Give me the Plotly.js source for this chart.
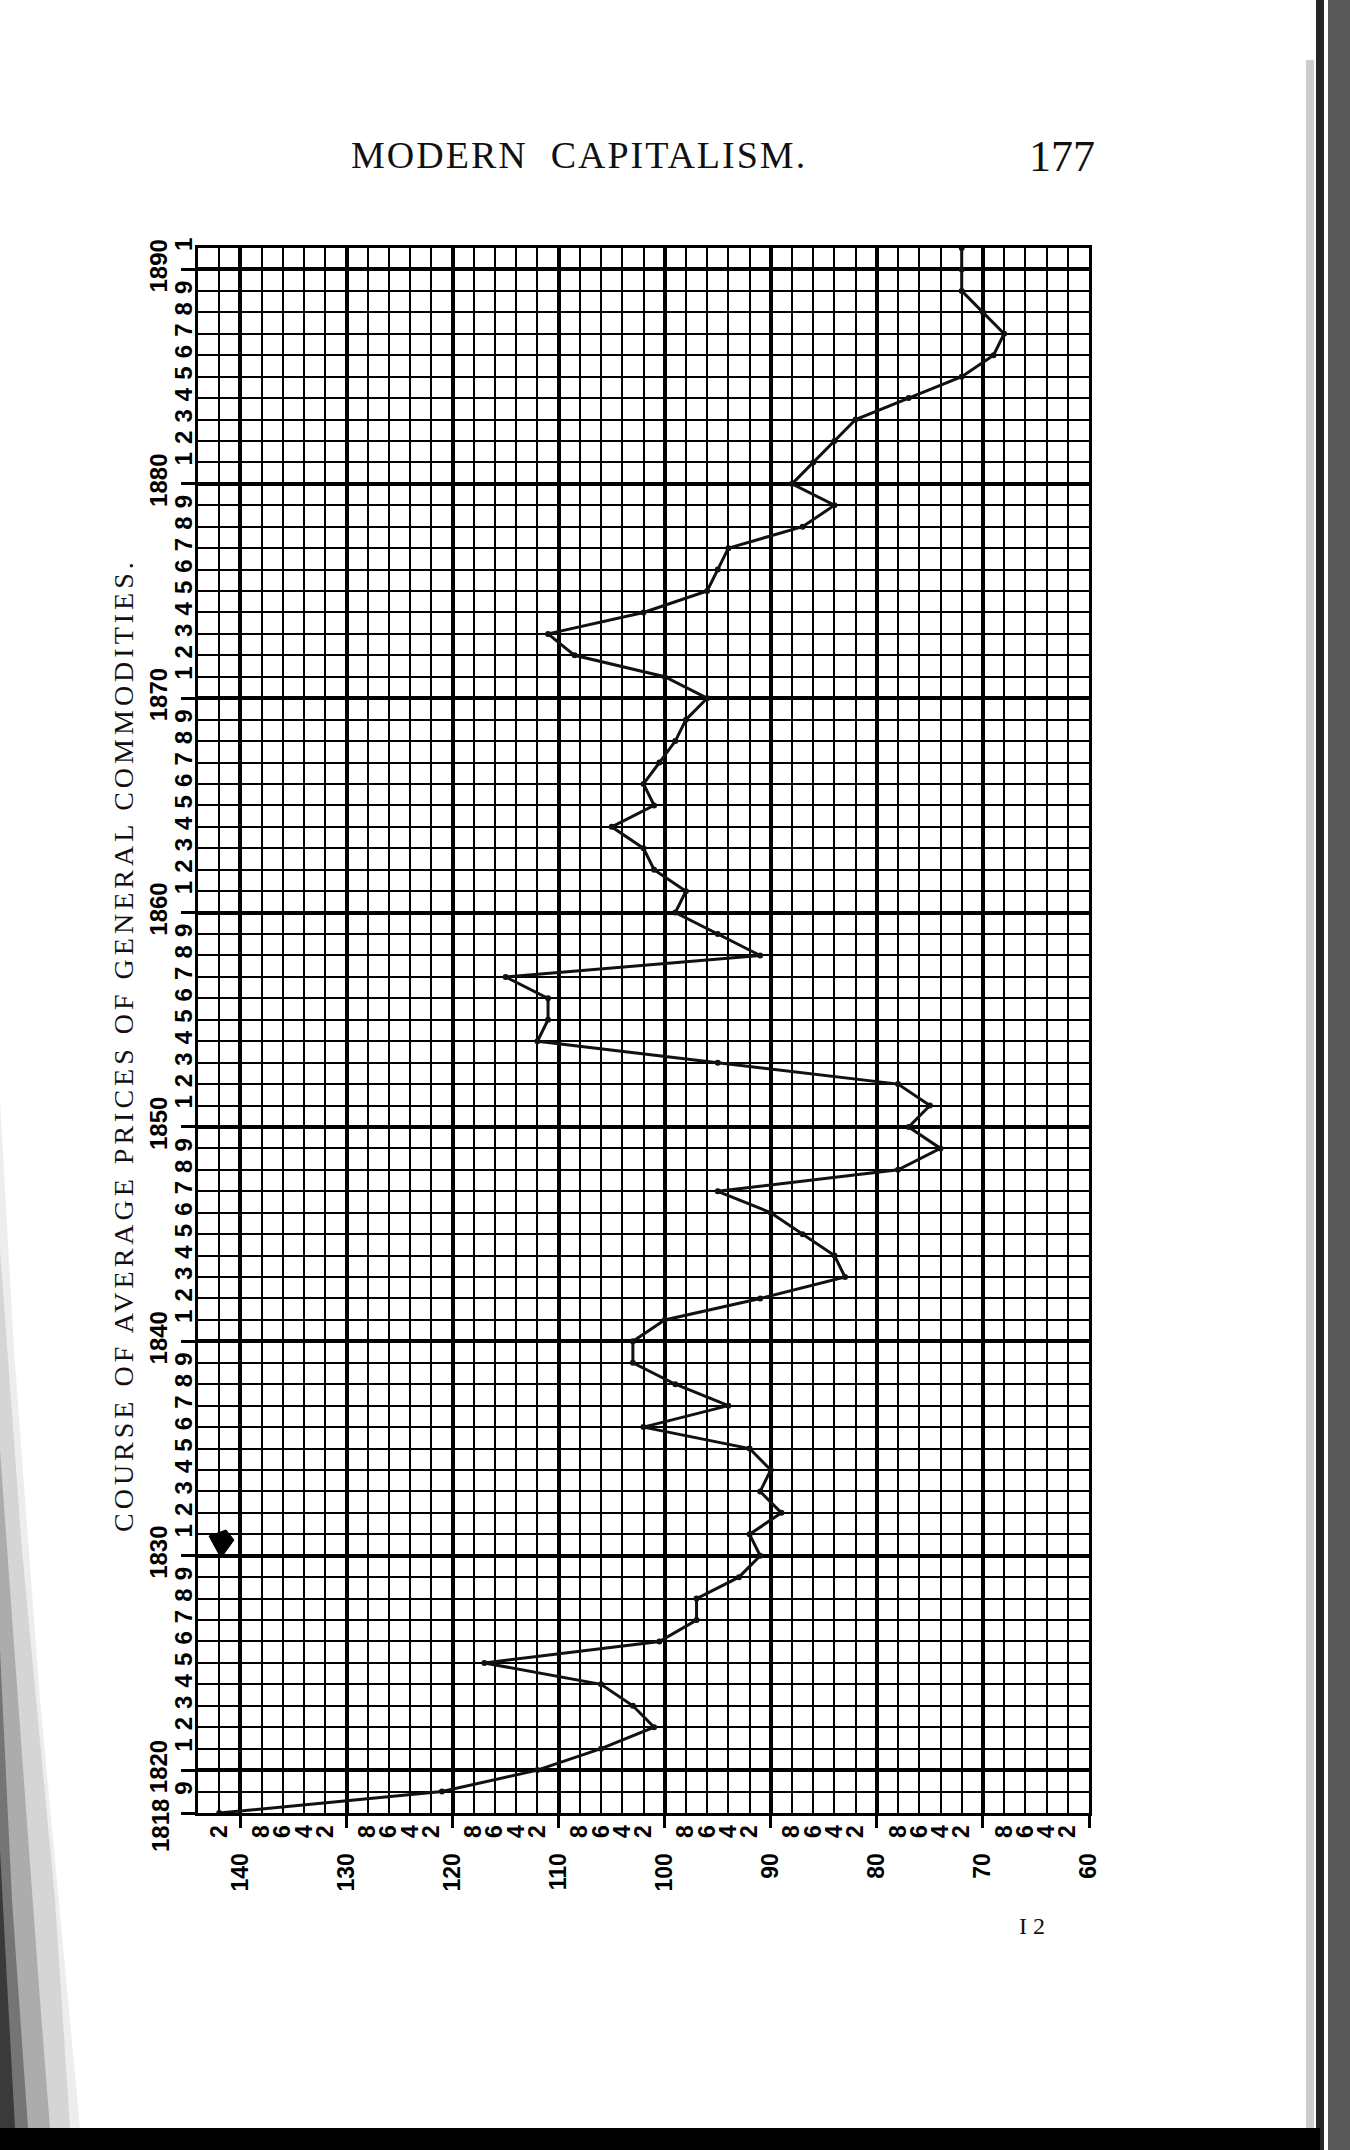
<!DOCTYPE html>
<html>
<head>
<meta charset="utf-8">
<script src="https://cdn.plot.ly/plotly-3.0.1.min.js"></script>
<style>
  html, body { margin: 0; padding: 0; background: #ffffff; }
  #chart { width: 1350px; height: 2150px; }
</style>
</head>
<body>
<div id="chart"></div>
<script>
// ---- data ----
const years = [1818,1819,1820,1821,1822,1823,1824,1825,1826,1827,1828,1829,
  1830,1831,1832,1833,1834,1835,1836,1837,1838,1839,
  1840,1841,1842,1843,1844,1845,1846,1847,1848,1849,
  1850,1851,1852,1853,1854,1855,1856,1857,1858,1859,
  1860,1861,1862,1863,1864,1865,1866,1867,1868,1869,
  1870,1871,1872,1873,1874,1875,1876,1877,1878,1879,
  1880,1881,1882,1883,1884,1885,1886,1887,1888,1889,1890,1891];
const averagePrices = [142,121,112,106,101,103,106,117,100.5,97,97,93,
  91,92,89,91,90,92,102,94,99,103,
  103,100,91,83,84,87,90,95,78,74,
  77,75,78,95,112,111,111,115,91,95,
  99,98,101,102,105,101,102,100.5,99,98,
  96,100,108.5,111,102,96,95,94,87,84,
  88,86,84,82,77,72,69,68,70,72,72,72];

// ---- axis ticks ----
const priceRange = [144, 60];
const priceMajorVals = [140,130,120,110,100,90,80,70,60];
const priceMajorText = ['140','130','120','110','100','90','80','70','60'];
const priceMinorVals = [142,138,136,134,132,128,126,124,122,118,116,114,112,
  108,106,104,102,98,96,94,92,88,86,84,82,78,76,74,72,68,66,64,62];
const priceMinorText = priceMinorVals.map(v => String(v % 10));

const yearRange = [1818, 1891];
const yearMajorVals = [1818,1820,1830,1840,1850,1860,1870,1880,1890];
const yearMajorText = ['','1820','1830','1840','1850','1860','1870','1880','1890'];
const firstYearLabel = '1818';
const yearMinorVals = [1819,1821,1822,1823,1824,1825,1826,1827,1828,1829,
  1831,1832,1833,1834,1835,1836,1837,1838,1839,
  1841,1842,1843,1844,1845,1846,1847,1848,1849,
  1851,1852,1853,1854,1855,1856,1857,1858,1859,
  1861,1862,1863,1864,1865,1866,1867,1868,1869,
  1871,1872,1873,1874,1875,1876,1877,1878,1879,
  1881,1882,1883,1884,1885,1886,1887,1888,1889,1891];
const yearMinorText = yearMinorVals.map(v => String(v % 10));

const pageTitle = 'MODERN\u00A0 CAPITALISM.';
const pageNumber = '177';
const chartTitle = 'COURSE OF AVERAGE PRICES OF GENERAL COMMODITIES.';
const signature = 'I 2';

// ---- page geometry ----
const PAGE_W = 1350, PAGE_H = 2150;
const M = { l: 198, r: 261, t: 248, b: 337 };
const PW = PAGE_W - M.l - M.r, PH = PAGE_H - M.t - M.b;
const px = x => (x - M.l) / PW;
const py = y => (PAGE_H - M.b - y) / PH;

const tickFontYear = { family: 'Liberation Sans', size: 24, color: '#000', weight: 'bold' };
const tickFontPrice = { family: 'Liberation Sans', size: 23, color: '#000', weight: 'bold' };

const traces = [
  {
    x: averagePrices, y: years, xaxis: 'x', yaxis: 'y',
    type: 'scatter', mode: 'lines+markers',
    line: { color: '#111', width: 3 },
    marker: { color: '#111', size: 6 },
    hoverinfo: 'x+y', showlegend: false, cliponaxis: false
  },
  {
    x: averagePrices, y: years, xaxis: 'x2', yaxis: 'y2',
    type: 'scatter', mode: 'markers',
    marker: { size: 1, opacity: 0 }, hoverinfo: 'skip', showlegend: false
  }
];

const baseAxis = { showgrid: true, gridcolor: '#000', zeroline: false, fixedrange: true };

// scan shading on the left page edge (decoration), as [points, colour, opacity]
const leftShadow = [
  [[[0,1100],[14,1350],[40,1700],[80,2128],[0,2128]], '#999', 0.18],
  [[[0,1250],[22,1550],[55,1900],[70,2128],[0,2128]], '#777', 0.2],
  [[[0,1450],[18,1700],[40,2000],[50,2128],[0,2128]], '#444', 0.28],
  [[[0,1650],[12,1900],[28,2128],[0,2128]], '#222', 0.4],
  [[[0,1850],[8,2000],[15,2128],[0,2128]], '#000', 0.5]
];
const pathOf = pts => pts.map((p, i) => (i ? 'L ' : 'M ') + px(p[0]) + ' ' + py(p[1])).join(' ') + ' Z';

const shapes = [
  { type: 'rect', xref: 'paper', yref: 'paper', x0: px(1316), x1: px(1324), y0: py(PAGE_H), y1: py(0),
    fillcolor: '#000', opacity: 0.85, line: { width: 0 }, layer: 'below' },
  { type: 'rect', xref: 'paper', yref: 'paper', x0: px(1328), x1: px(1350), y0: py(PAGE_H), y1: py(0),
    fillcolor: '#222', opacity: 0.75, line: { width: 0 }, layer: 'below' },
  { type: 'rect', xref: 'paper', yref: 'paper', x0: px(1306), x1: px(1314), y0: py(PAGE_H), y1: py(60),
    fillcolor: '#555', opacity: 0.3, line: { width: 0 }, layer: 'below' },
  { type: 'rect', xref: 'paper', yref: 'paper', x0: px(0), x1: px(1320), y0: py(PAGE_H), y1: py(2128),
    fillcolor: '#000', opacity: 1, line: { width: 0 }, layer: 'below' },
  { type: 'path', xref: 'paper', yref: 'paper',
    path: pathOf([[209,1536],[226,1530],[234,1540],[221,1558]]),
    fillcolor: '#000', line: { color: '#000', width: 1 } }
].concat(leftShadow.map(s => ({
  type: 'path', xref: 'paper', yref: 'paper', path: pathOf(s[0]),
  fillcolor: s[1], opacity: s[2], line: { width: 0 }, layer: 'below'
})));

const annotations = [
  { xref: 'paper', yref: 'paper', x: px(579), y: py(155), text: pageTitle, showarrow: false,
    font: { family: 'Liberation Serif', size: 38, color: '#111' }, xanchor: 'center', yanchor: 'middle' },
  { xref: 'paper', yref: 'paper', x: px(1062), y: py(157), text: pageNumber, showarrow: false,
    font: { family: 'Liberation Serif', size: 44, color: '#111' }, xanchor: 'center', yanchor: 'middle' },
  { xref: 'paper', yref: 'paper', x: px(123), y: py(1045), text: chartTitle, showarrow: false, textangle: -90,
    font: { family: 'Liberation Serif', size: 28, color: '#111' }, xanchor: 'center', yanchor: 'middle' },
  { xref: 'paper', yref: 'paper', x: px(1032), y: py(1926), text: signature, showarrow: false,
    font: { family: 'Liberation Serif', size: 24, color: '#111' }, xanchor: 'center', yanchor: 'middle' },
  { xref: 'paper', yref: 'paper', x: px(161), y: py(1826), text: firstYearLabel, showarrow: false, textangle: -90,
    font: tickFontYear, xanchor: 'center', yanchor: 'middle' }
];

const layout = {
  width: PAGE_W, height: PAGE_H,
  margin: M,
  paper_bgcolor: '#ffffff', plot_bgcolor: 'rgba(0,0,0,0)',
  showlegend: false,
  xaxis: Object.assign({}, baseAxis, {
    range: priceRange, tickmode: 'array', tickvals: priceMinorVals, ticktext: priceMinorText,
    tickangle: -90, ticks: '', ticklabelstandoff: 0, tickfont: tickFontPrice,
    gridwidth: 2, showline: true, mirror: true, linecolor: '#000', linewidth: 3
  }),
  xaxis2: Object.assign({}, baseAxis, {
    overlaying: 'x', anchor: 'y2', side: 'bottom',
    range: priceRange, tickmode: 'array', tickvals: priceMajorVals, ticktext: priceMajorText,
    tickangle: -90, ticks: 'outside', ticklen: 14, tickwidth: 3, tickcolor: '#000',
    ticklabelstandoff: 16, tickfont: tickFontPrice, gridwidth: 4, showline: false
  }),
  yaxis: Object.assign({}, baseAxis, {
    range: yearRange, tickmode: 'array', tickvals: yearMinorVals, ticktext: yearMinorText,
    tickangle: -90, ticks: '', ticklabelstandoff: -7, tickfont: tickFontYear,
    gridwidth: 2, showline: true, mirror: true, linecolor: '#000', linewidth: 3
  }),
  yaxis2: Object.assign({}, baseAxis, {
    overlaying: 'y', anchor: 'x2', side: 'left',
    range: yearRange, tickmode: 'array', tickvals: yearMajorVals, ticktext: yearMajorText,
    tickangle: -90, ticks: 'outside', ticklen: 16, tickwidth: 3, tickcolor: '#000',
    ticklabelstandoff: 4, tickfont: tickFontYear, gridwidth: 4, showline: false
  }),
  shapes: shapes,
  annotations: annotations
};

Plotly.newPlot('chart', traces, layout, { staticPlot: true, displayModeBar: false }).then(() => {
  const spacing = { 0: '2px', 2: '4px' };
  document.querySelectorAll('.annotation-text').forEach((el, i) => {
    if (spacing[i]) el.setAttribute('letter-spacing', spacing[i]);
  });
});
</script>
</body>
</html>
